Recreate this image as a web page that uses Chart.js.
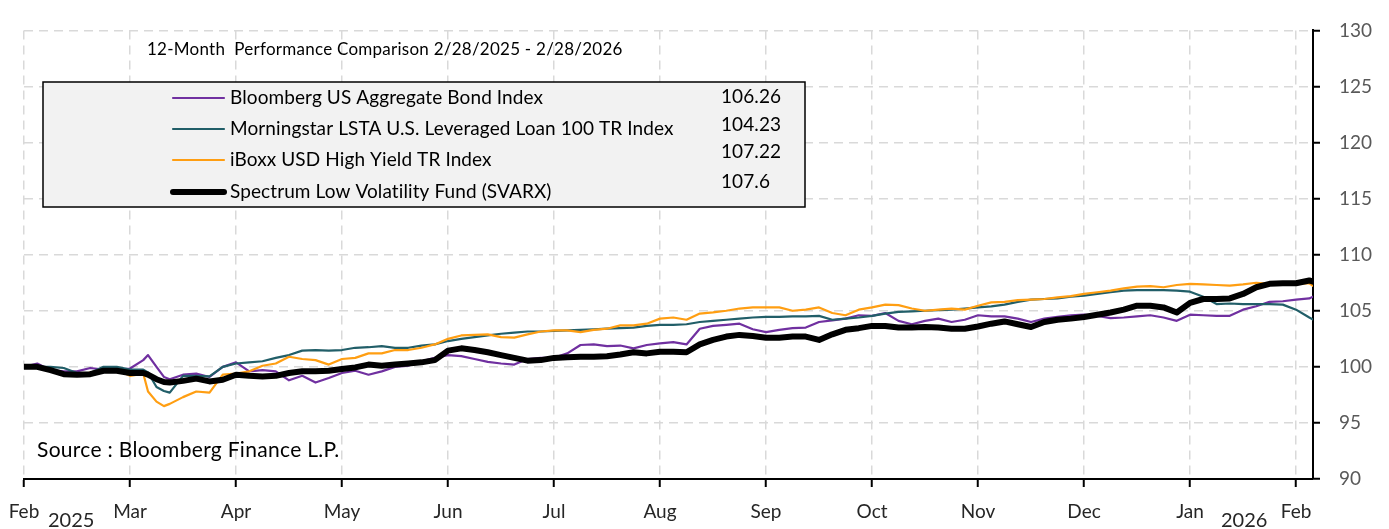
<!DOCTYPE html>
<html>
<head>
<meta charset="utf-8">
<script src="https://cdn.jsdelivr.net/npm/chart.js@4.4.1/dist/chart.umd.min.js"></script>
<style>
  html, body { margin: 0; padding: 0; background: #fff; }
  #wrap { width: 1389px; height: 529px; }
</style>
</head>
<body>
<div id="wrap"><canvas id="myChart" width="1389" height="529"></canvas></div>
<script>
const monthLabels = ['Feb', 'Mar', 'Apr', 'May', 'Jun', 'Jul', 'Aug', 'Sep', 'Oct', 'Nov', 'Dec', 'Jan', 'Feb'];
const yearLabels = ['2025', '2026'];
const yTicks = [90, 95, 100, 105, 110, 115, 120, 125, 130];

// position on the time axis, in months from the Feb 2025 tick
const monthPos = [
  0, 0.125, 0.25, 0.375, 0.5, 0.625, 0.75, 0.875,
  1, 1.125, 1.17, 1.25, 1.32, 1.375, 1.5, 1.625, 1.75, 1.875,
  2, 2.125, 2.25, 2.375, 2.5, 2.625, 2.75, 2.875,
  3, 3.125, 3.25, 3.375, 3.5, 3.625, 3.75, 3.875,
  4, 4.125, 4.25, 4.375, 4.5, 4.625, 4.75, 4.875,
  5, 5.125, 5.25, 5.375, 5.5, 5.625, 5.75, 5.875,
  6, 6.125, 6.25, 6.375, 6.5, 6.625, 6.75, 6.875,
  7, 7.125, 7.25, 7.375, 7.5, 7.625, 7.75, 7.875,
  8, 8.125, 8.25, 8.375, 8.5, 8.625, 8.75, 8.875,
  9, 9.125, 9.25, 9.375, 9.5, 9.625, 9.75, 9.875,
  10, 10.125, 10.25, 10.375, 10.5, 10.625, 10.75, 10.875,
  11, 11.125, 11.25, 11.375, 11.5, 11.625, 11.75, 11.875,
  12, 12.125, 12.16
];

const bloomberg = [
  100.0, 100.3, 99.7, 99.6, 99.6, 99.9, 99.75, 99.75,
  99.85, 100.6, 101.05, 100.0, 99.1, 98.9, 99.3, 99.4, 99.1, 100.0,
  100.4, 99.6, 99.7, 99.6, 98.8, 99.2, 98.6, 99.0,
  99.45, 99.65, 99.3, 99.6, 100.0, 100.1, 100.5, 100.8,
  101.05, 100.95, 100.7, 100.45, 100.3, 100.2, 100.7, 100.8,
  100.8, 101.2, 101.95, 102.0, 101.85, 101.9, 101.65, 101.95,
  102.1, 102.2, 102.0, 103.4, 103.65, 103.75, 103.85, 103.35,
  103.1, 103.3, 103.45, 103.5, 104.0, 104.15, 104.3, 104.6,
  104.55, 104.8, 104.1, 103.8, 104.1, 104.3, 104.0, 104.2,
  104.6, 104.5, 104.5, 104.3, 104.0, 104.3, 104.45, 104.6,
  104.65, 104.55, 104.35, 104.4, 104.5, 104.6, 104.4, 104.1,
  104.65, 104.6, 104.55, 104.55, 105.1, 105.4, 105.8, 105.85,
  106.0, 106.1, 106.26
];

const lstaLoan = [
  100.0, 100.0, 100.0, 99.9, 99.45, 99.45, 100.0, 100.0,
  99.75, 99.75, 99.5, 98.2, 97.85, 97.7, 99.2, 99.2, 99.15, 100.0,
  100.3, 100.4, 100.5, 100.8, 101.05, 101.45, 101.5, 101.45,
  101.5, 101.7, 101.75, 101.85, 101.7, 101.7, 101.9, 102.0,
  102.3, 102.5, 102.65, 102.8, 102.95, 103.05, 103.15, 103.15,
  103.2, 103.25, 103.3, 103.35, 103.4, 103.45, 103.5, 103.65,
  103.75, 103.75, 103.8, 104.0, 104.1, 104.2, 104.3, 104.4,
  104.45, 104.45, 104.5, 104.5, 104.55, 104.2, 104.3, 104.4,
  104.55, 104.75, 104.9, 104.95, 105.0, 105.05, 105.1, 105.2,
  105.3, 105.4, 105.55, 105.8, 106.0, 106.05, 106.1, 106.25,
  106.35, 106.5, 106.65, 106.8, 106.85, 106.85, 106.85, 106.8,
  106.7, 106.25, 105.6, 105.65, 105.6, 105.6, 105.6, 105.55,
  105.1, 104.4, 104.23
];

const iboxxHY = [
  100.0, 99.9, 99.8, 99.4, 99.2, 99.5, 99.75, 99.75,
  99.2, 99.4, 97.8, 96.9, 96.5, 96.7, 97.3, 97.8, 97.7, 99.3,
  99.4, 99.6, 100.1, 100.3, 100.9, 100.7, 100.6, 100.2,
  100.7, 100.8, 101.2, 101.2, 101.5, 101.5, 101.7, 102.0,
  102.5, 102.8, 102.85, 102.9, 102.65, 102.6, 102.9, 103.15,
  103.25, 103.25, 103.1, 103.3, 103.4, 103.7, 103.7, 103.85,
  104.3, 104.4, 104.2, 104.75, 104.85, 105.0, 105.2, 105.3,
  105.3, 105.3, 105.0, 105.1, 105.3, 104.8, 104.6, 105.1,
  105.3, 105.55, 105.5, 105.2, 105.0, 105.1, 105.2, 105.1,
  105.45, 105.75, 105.8, 105.95, 106.0, 106.05, 106.2, 106.3,
  106.5, 106.65, 106.8, 107.0, 107.15, 107.2, 107.1, 107.3,
  107.4, 107.35, 107.3, 107.25, 107.35, 107.5, 107.4, 107.45,
  107.45, 107.45, 107.22
];

const svarx = [
  100.0, 100.0, 99.7, 99.35, 99.3, 99.35, 99.65, 99.65,
  99.45, 99.45, 99.3, 98.9, 98.65, 98.6, 98.75, 98.95, 98.7, 98.85,
  99.3, 99.2, 99.15, 99.2, 99.45, 99.6, 99.6, 99.65,
  99.8, 99.95, 100.2, 100.1, 100.2, 100.3, 100.4, 100.6,
  101.45, 101.65, 101.5, 101.3, 101.05, 100.8, 100.55, 100.6,
  100.8, 100.85, 100.9, 100.9, 100.95, 101.1, 101.3, 101.2,
  101.35, 101.35, 101.3, 102.0, 102.4, 102.7, 102.85, 102.75,
  102.6, 102.6, 102.7, 102.7, 102.4, 102.9, 103.3, 103.45,
  103.65, 103.65, 103.5, 103.5, 103.55, 103.5, 103.4, 103.4,
  103.6, 103.85, 104.05, 103.8, 103.55, 104.0, 104.2, 104.3,
  104.45, 104.65, 104.85, 105.1, 105.45, 105.45, 105.3, 104.85,
  105.7, 106.05, 106.05, 106.1, 106.5, 107.1, 107.4, 107.45,
  107.45, 107.7, 107.6
];

const seriesNames = [
  'Bloomberg US Aggregate Bond Index',
  'Morningstar LSTA U.S. Leveraged Loan 100 TR Index',
  'iBoxx USD High Yield TR Index',
  'Spectrum Low Volatility Fund (SVARX)'
];
const legendValues = ['106.26', '104.23', '107.22', '107.6'];
const chartTitle = '12-Month  Performance Comparison 2/28/2025 - 2/28/2026';
const sourceNote = 'Source : Bloomberg Finance L.P.';

const colors = ['#7030A0', '#215E68', '#FF9E12', '#000000'];
const widths = [2.2, 2.2, 2.2, 6];
const FONT = 'Lato, "Open Sans", sans-serif';

const seriesValues = [bloomberg, lstaLoan, iboxxHY, svarx];
const datasets = seriesValues.map((vals, i) => ({
  label: seriesNames[i],
  data: monthPos.map((m, j) => ({ x: m, y: vals[j] })),
  borderColor: colors[i],
  borderWidth: widths[i],
  pointRadius: 0,
  tension: 0,
  fill: false,
  order: i === 3 ? 0 : 4 - i,
  borderJoinStyle: 'round',
  borderCapStyle: 'round'
}));

const overlay = {
  id: 'overlay',
  afterDraw(chart) {
    const ctx = chart.ctx;
    ctx.save();
    ctx.textBaseline = 'middle';
    ctx.fillStyle = '#000';

    // title
    ctx.font = '17px ' + FONT;
    ctx.letterSpacing = '0.25px';
    ctx.fillText(chartTitle, 147, 50);

    // legend box
    ctx.letterSpacing = '0px';
    ctx.fillStyle = '#F2F2F2';
    ctx.fillRect(43, 82, 762, 125);
    ctx.strokeStyle = '#000';
    ctx.lineWidth = 1.5;
    ctx.strokeRect(43, 82, 762, 125);

    const rowY = [98, 129, 160, 192];
    const valY = [97, 125, 152, 182];
    ctx.font = '19px ' + FONT;
    ctx.letterSpacing = '0.1px';
    seriesNames.forEach((name, i) => {
      ctx.strokeStyle = colors[i];
      ctx.lineWidth = i === 3 ? 6 : 2.2;
      ctx.lineCap = 'round';
      ctx.beginPath();
      ctx.moveTo(173, rowY[i]);
      ctx.lineTo(224, rowY[i]);
      ctx.stroke();
      ctx.fillStyle = '#000';
      ctx.fillText(name, 230, rowY[i]);
      ctx.fillText(legendValues[i], 721, valY[i]);
    });

    // source note
    ctx.font = '21px ' + FONT;
    ctx.letterSpacing = '0.3px';
    ctx.fillText(sourceNote, 37, 450);

    // year labels under the axis
    ctx.font = '20px ' + FONT;
    ctx.letterSpacing = '0px';
    ctx.fillStyle = '#262626';
    ctx.fillText(yearLabels[0], 48, 521);
    ctx.fillText(yearLabels[1], 1221, 521);
    ctx.restore();
  }
};

new Chart(document.getElementById('myChart').getContext('2d'), {
  type: 'line',
  data: { datasets },
  options: {
    responsive: false,
    animation: false,
    layout: { padding: { left: 24, top: 20.5, right: 0, bottom: 0 } },
    plugins: {
      legend: { display: false },
      tooltip: { enabled: false }
    },
    scales: {
      x: {
        type: 'linear',
        min: 0,
        max: 12.16,
        afterFit: (scale) => {
          scale.height = 50;
          scale.paddingLeft = 0;
          scale.paddingRight = 0;
        },
        ticks: {
          stepSize: 1,
          includeBounds: false,
          autoSkip: false,
          maxRotation: 0,
          padding: 13,
          color: '#262626',
          font: { family: FONT, size: 19 },
          callback: (v) => monthLabels[v] ?? ''
        },
        grid: {
          color: '#D9D9D9',
          lineWidth: 1.5,
          tickLength: 8,
          tickColor: '#000',
          tickWidth: 2,
          tickBorderDash: []
        },
        border: { display: true, color: '#000', width: 2, dash: [9, 6] }
      },
      y: {
        position: 'right',
        min: 90,
        max: 130,
        afterFit: (scale) => { scale.width = 76; },
        afterBuildTicks: (scale) => { scale.ticks = yTicks.map(v => ({ value: v })); },
        ticks: {
          padding: 19,
          color: '#595959',
          font: { family: FONT, size: 19 }
        },
        grid: {
          color: '#D9D9D9',
          lineWidth: 1.5,
          tickLength: 7,
          tickColor: '#000',
          tickWidth: 2,
          tickBorderDash: []
        },
        border: { display: true, color: '#000', width: 2, dash: [9, 6] }
      }
    }
  },
  plugins: [overlay]
});
</script>
</body>
</html>
